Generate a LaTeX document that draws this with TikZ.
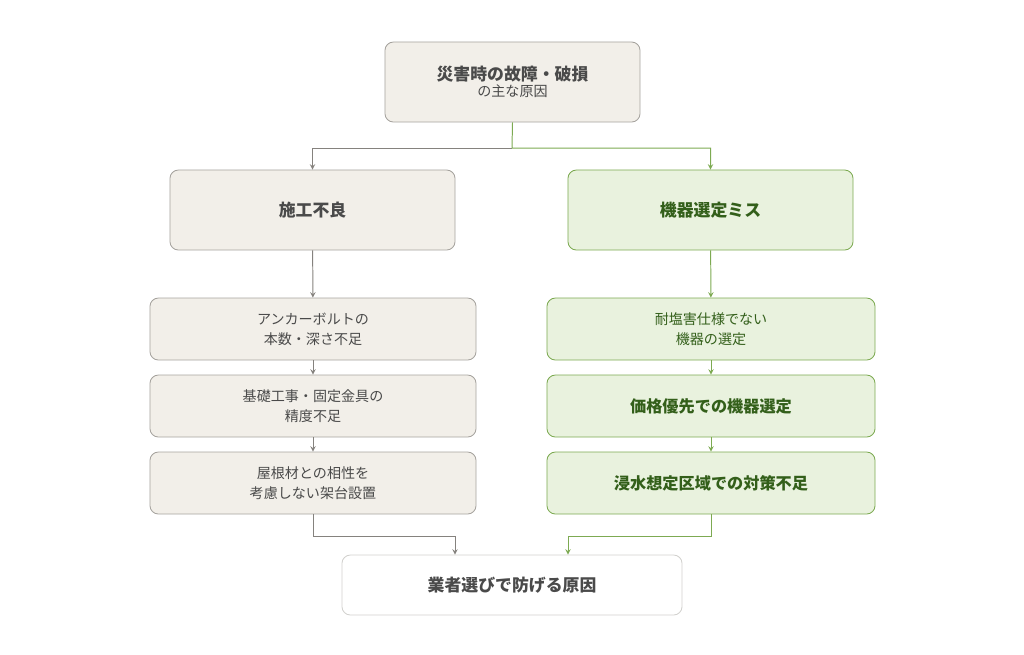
\documentclass[tikz,border=0pt]{standalone}
\usepackage{fontspec}
\setmainfont{Noto Sans CJK JP}
\usetikzlibrary{positioning}
\definecolor{beige}{HTML}{F2EFE9}
\definecolor{beigeline}{HTML}{A6A39E}
\definecolor{greenfill}{HTML}{E9F2DE}
\definecolor{greenline}{HTML}{7DAA52}
\definecolor{greentext}{HTML}{335F1A}
\definecolor{graytext}{HTML}{4A4A4A}
\tikzset{
  box/.style={draw=beigeline, fill=beige, rounded corners=6pt, align=center, text=graytext, line width=0.6pt},
  gbox/.style={box, draw=greenline, fill=greenfill, text=greentext},
  big/.style={minimum width=7.125cm, minimum height=2cm, font={\fontsize{12}{15}\selectfont\bfseries}},
  small/.style={minimum height=1.55cm, font={\fontsize{10}{14}\selectfont}},
  arr/.style={->, >=stealth, draw=beigeline!80!black, line width=0.7pt},
  garr/.style={arr, draw=greenline}
}
\begin{document}
\begin{tikzpicture}[x=0.025cm, y=-0.025cm]
\useasboundingbox (0,0) rectangle (1024,654);
% top
\node[box, minimum width=6.375cm, minimum height=2cm] (cause) at (512.5,82)
  {{\fontsize{12}{16}\selectfont\bfseries 災害時の故障・破損}\\[-1pt]{\fontsize{10}{13}\selectfont の主な原因}};
% two branches
\node[box, big] (work) at (312.5,210) {施工不良};
\node[gbox, big] (equip) at (710.5,210) {機器選定ミス};
% left column
\node[box, small, minimum width=8.15cm] (l1) at (313,329) {アンカーボルトの\\本数・深さ不足};
\node[box, small, minimum width=8.15cm] (l2) at (313,406) {基礎工事・固定金具の\\精度不足};
\node[box, small, minimum width=8.15cm] (l3) at (313,483) {屋根材との相性を\\考慮しない架台設置};
% right column
\node[gbox, small, minimum width=8.2cm] (r1) at (711,329) {耐塩害仕様でない\\機器の選定};
\node[gbox, small, minimum width=8.2cm, font={\fontsize{11.5}{14}\selectfont\bfseries}] (r2) at (711,406) {価格優先での機器選定};
\node[gbox, small, minimum width=8.2cm, font={\fontsize{11.5}{14}\selectfont\bfseries}] (r3) at (711,483) {浸水想定区域での対策不足};
% bottom
\node[box, fill=white, draw=beigeline!50, minimum width=8.5cm, minimum height=1.5cm,
  font={\fontsize{12}{15}\selectfont\bfseries}] (vendor) at (512,585) {業者選びで防げる原因};
% connectors
\coordinate (split) at (512,148);
\coordinate (inL) at ([xshift=-1.425cm]vendor.north);
\coordinate (inR) at ([xshift=1.4cm]vendor.north);
\draw[arr] (split) -| (work.north);
\draw[garr] (cause.south) -- (split) -| (equip.north);
\draw[arr] (work) -- (l1);
\draw[arr] (l1) -- (l2);
\draw[arr] (l2) -- (l3);
\draw[garr] (equip) -- (r1);
\draw[garr] (r1) -- (r2);
\draw[garr] (r2) -- (r3);
\draw[arr] (l3.south) -- ++(0,22) -| (inL);
\draw[garr] (r3.south) -- ++(0,22) -| (inR);
\end{tikzpicture}
\end{document}
